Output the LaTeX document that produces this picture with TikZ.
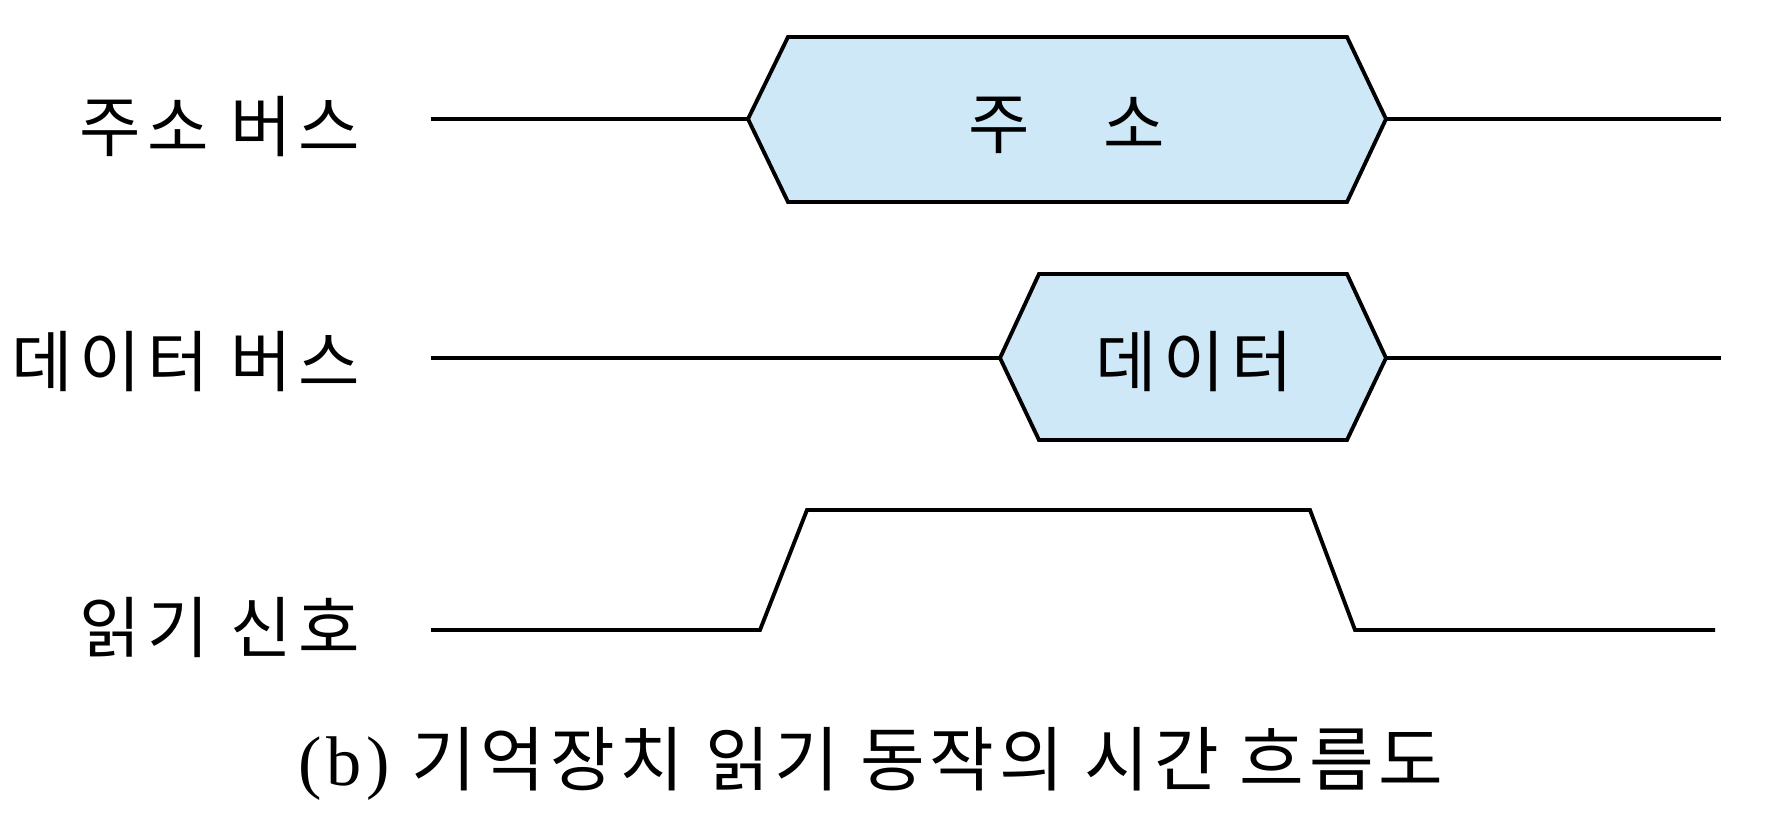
\documentclass[tikz,border=0pt]{standalone}
\usepackage{fontspec}
\setmainfont{Noto Sans CJK KR}
\newfontfamily\spacedfont{Noto Sans CJK KR}[LetterSpace=10]
\newfontfamily\capfont{Noto Sans CJK KR}[LetterSpace=7]
\newfontfamily\capserif{Liberation Serif}[LetterSpace=7]
\usepackage{xcolor}
\usepackage{tikz}
\usetikzlibrary{positioning}

\definecolor{busfill}{RGB}{206,232,248}

\begin{document}
\begin{tikzpicture}[
  x=0.1mm, y=-0.1mm,
  sig/.style={line width=1.1pt, line join=miter},
  busbox/.style={sig, fill=busfill},
  lbl/.style={anchor=east, inner sep=0pt, font=\spacedfont\fontsize{19}{22}\selectfont},
  boxtxt/.style={inner sep=0pt, font=\spacedfont\fontsize{19}{22}\selectfont},
  captxt/.style={inner sep=0pt, font=\capfont\fontsize{20}{24}\selectfont}
]
  \useasboundingbox (0,0) rectangle (1778,814);

  % signal names
  \node[lbl] (addrlbl) at (361,127) {주소 버스};
  \node[lbl] (datalbl) at (361,362) {데이터 버스};
  \node[lbl] (readlbl) at (361,627) {읽기 신호};

  % address bus
  \draw[sig] (431,119) -- (748,119);
  \draw[busbox] (748,119) -- (788,37) -- (1347,37) -- (1386,119) -- (1347,202) -- (788,202) -- cycle;
  \draw[sig] (1386,119) -- (1721,119);
  \node[boxtxt] (addr) at (1067,125) {주\hspace{1.1em}소};

  % data bus
  \draw[sig] (431,358) -- (1000,358);
  \draw[busbox] (1000,358) -- (1039,274) -- (1347,274) -- (1386,358) -- (1347,440) -- (1039,440) -- cycle;
  \draw[sig] (1386,358) -- (1721,358);
  \node[boxtxt] (data) at (1194,362) {데이터};

  % read signal
  \draw[sig] (431,630) -- (760,630) -- (807,510) -- (1310,510) -- (1355,630) -- (1715,630);

  \node[captxt] (caption) at (871,764) {{\capserif (b)} 기억장치 읽기 동작의 시간 흐름도};
\end{tikzpicture}
\end{document}
